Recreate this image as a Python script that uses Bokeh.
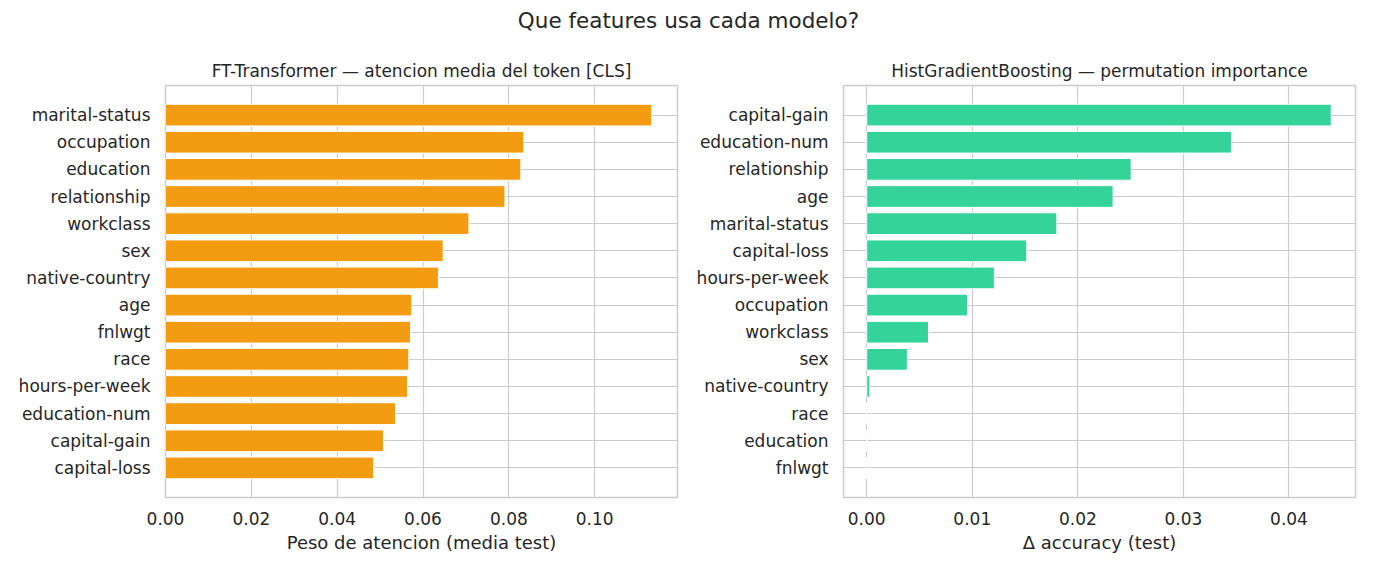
from bokeh.plotting import figure
from bokeh.models import FactorRange, Range1d, Div, SingleIntervalTicker, CustomJSTickFormatter
from bokeh.layouts import column, row
from bokeh.embed import file_html
from bokeh.resources import INLINE

# FT-Transformer: mean attention of the [CLS] token (top -> bottom)
ft_features = ["marital-status", "occupation", "education", "relationship", "workclass",
               "sex", "native-country", "age", "fnlwgt", "race", "hours-per-week",
               "education-num", "capital-gain", "capital-loss"]
ft_values = [0.1133, 0.0835, 0.0828, 0.0791, 0.0707, 0.0647, 0.0636, 0.0574,
             0.0571, 0.0567, 0.0564, 0.0536, 0.0508, 0.0485]

# HistGradientBoosting: permutation importance (top -> bottom)
hgb_features = ["capital-gain", "education-num", "relationship", "age", "marital-status",
                "capital-loss", "hours-per-week", "occupation", "workclass", "sex",
                "native-country", "race", "education", "fnlwgt"]
hgb_values = [0.0440, 0.03455, 0.02505, 0.02334, 0.01801, 0.01516, 0.01209, 0.00956,
              0.00585, 0.00385, 0.0003, 0.0, 0.0, 0.0]

FONT = "DejaVu Sans"
TXT = "#262626"
GRID = "#cccccc"


def make_panel(features, values, color, title, xlabel, x_start, x_end, tick_step,
               width, border_left, border_right):
    yr = FactorRange(factors=list(reversed(features)), range_padding=0.59,
                     range_padding_units="absolute")
    p = figure(width=width, height=524, y_range=yr, x_range=Range1d(x_start, x_end),
               output_backend="svg", toolbar_location=None,
               min_border_left=border_left, min_border_right=border_right,
               min_border_top=42, min_border_bottom=70)
    p.hbar(y=features, right=values, left=0, height=0.8, fill_color=color,
           line_color="white", line_width=1)

    p.title.text = title
    p.title.align = "center"
    p.title.text_font = FONT
    p.title.text_font_size = "17px"
    p.title.text_font_style = "normal"
    p.title.text_color = TXT

    p.xaxis.ticker = SingleIntervalTicker(interval=tick_step)
    p.xaxis.formatter = CustomJSTickFormatter(code="return tick.toFixed(2);")
    p.xaxis.axis_label = xlabel
    for ax in (p.xaxis, p.yaxis):
        ax.axis_line_color = None
        ax.major_tick_line_color = None
        ax.minor_tick_line_color = None
        ax.major_label_text_font = FONT
        ax.major_label_text_font_size = "17px"
        ax.major_label_text_color = TXT
        ax.axis_label_text_font = FONT
        ax.axis_label_text_font_size = "18px"
        ax.axis_label_text_font_style = "normal"
        ax.axis_label_text_color = TXT
    p.xaxis.major_label_standoff = 8
    p.xaxis.axis_label_standoff = 4
    p.yaxis.major_label_standoff = 9

    p.grid.grid_line_color = GRID
    p.grid.grid_line_width = 1.2
    p.outline_line_color = GRID
    p.outline_line_width = 1.5
    return p


p1 = make_panel(ft_features, ft_values, "#f39c12",
                "FT-Transformer \u2014 atencion media del token [CLS]",
                "Peso de atencion (media test)", 0.0, 0.1193, 0.02,
                690, 165, 13)

p2 = make_panel(hgb_features, hgb_values, "#34d399",
                "HistGradientBoosting \u2014 permutation importance",
                "\u0394 accuracy (test)", -0.0022, 0.0463, 0.01,
                677, 153, 12)

title = Div(text="Que features usa cada modelo?", width=1367, height=32,
            styles={"text-align": "center", "font-family": FONT, "font-size": "21.5px",
                    "color": TXT, "width": "1367px", "margin-top": "6px"})

layout = column(title, row(p1, p2, spacing=0), spacing=0)
open("out.html", "w").write(file_html(layout, INLINE))
